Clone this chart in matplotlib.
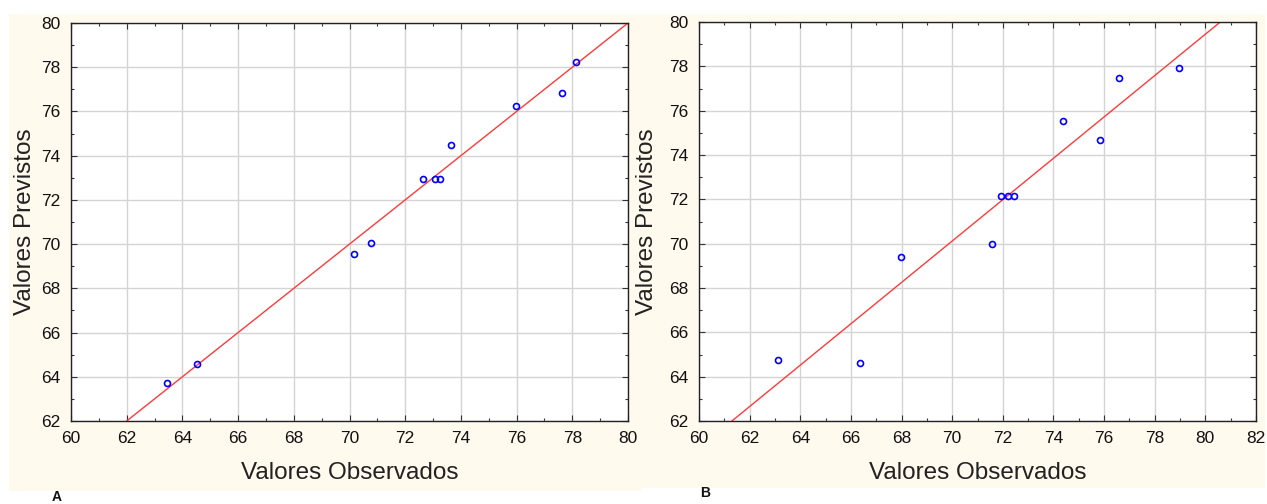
import matplotlib
matplotlib.use("Agg")
import matplotlib.pyplot as plt
from matplotlib.patches import Rectangle
from matplotlib.ticker import MultipleLocator

plt.rcParams['font.family'] = ['Liberation Sans', 'DejaVu Sans']

# ---- data ----
obs_a = [63.46, 64.53, 70.15, 70.78, 72.65, 73.08, 73.24, 73.64, 75.99, 77.62, 78.13]
pred_a = [63.72, 64.60, 69.55, 70.05, 72.94, 72.94, 72.94, 74.48, 76.25, 76.83, 78.22]
line_a_x = [62.0, 80.0]
line_a_y = [62.0, 80.0]

obs_b = [63.12, 66.35, 67.99, 71.57, 71.93, 72.22, 72.43, 74.37, 75.82, 76.59, 78.96]
pred_b = [64.76, 64.61, 69.40, 70.00, 72.16, 72.16, 72.16, 75.55, 74.69, 77.46, 77.93]
line_b_x = [61.30, 80.59]
line_b_y = [62.0, 80.0]

xlim_a = (60, 80)
xlim_b = (60, 82)
ylim = (62, 80)
xlabel = "Valores Observados"
ylabel = "Valores Previstos"
panel_labels = ["A", "B"]

W, H = 1267, 504
fig = plt.figure(figsize=(W / 100, H / 100), dpi=100)
fig.patch.set_facecolor('white')

cream = '#FFF9EE'
fig.patches.append(Rectangle((9 / W, 1 - 491 / H), 633 / W, 477 / H,
                             transform=fig.transFigure, facecolor=cream,
                             edgecolor='none', zorder=-10))
fig.patches.append(Rectangle((642 / W, 1 - 488 / H), 623 / W, 474 / H,
                             transform=fig.transFigure, facecolor=cream,
                             edgecolor='none', zorder=-10))

ax_a = fig.add_axes([71 / W, 1 - 421 / H, 557 / W, 398 / H])
ax_b = fig.add_axes([699 / W, 1 - 421 / H, 557 / W, 399 / H])
ax_a.set_zorder(5)
ax_b.set_zorder(5)


def style(ax, xlim, ylab_x):
    ax.set_facecolor('white')
    ax.set_xlim(*xlim)
    ax.set_ylim(*ylim)
    ax.xaxis.set_major_locator(MultipleLocator(2))
    ax.xaxis.set_minor_locator(MultipleLocator(1))
    ax.yaxis.set_major_locator(MultipleLocator(2))
    ax.yaxis.set_minor_locator(MultipleLocator(1))
    ax.grid(True, which='major', color='#D4D4D4', linewidth=1.0, zorder=0)
    ax.set_axisbelow(True)
    for s in ax.spines.values():
        s.set_color('#222222')
        s.set_linewidth(1.0)
    ax.tick_params(which='both', direction='in', top=True, right=True,
                   color='#333333', labelsize=12.5, labelcolor='#111111')
    ax.tick_params(which='major', length=4, width=0.8, pad=7.5)
    ax.tick_params(which='minor', length=2.5, width=0.8)
    ax.set_xlabel(xlabel, fontsize=17.5, color='#222222')
    ax.set_ylabel(ylabel, fontsize=17.5, color='#222222')
    ax.xaxis.label.set_va('center')
    ax.xaxis.set_label_coords(0.5, -0.131)
    ax.yaxis.label.set_va('center')
    ax.yaxis.set_label_coords(ylab_x, 0.5)


style(ax_a, xlim_a, -0.083)
style(ax_b, xlim_b, -0.094)

ax_a.plot(line_a_x, line_a_y, color='#FF3B3B', linewidth=1.0, zorder=2)
ax_a.plot(obs_a, pred_a, linestyle='none', marker='o', markersize=4.3,
          markerfacecolor='none', markeredgecolor='#0000FF',
          markeredgewidth=1.2, zorder=3)

ax_b.plot(line_b_x, line_b_y, color='#FF3B3B', linewidth=1.0, zorder=2)
ax_b.plot(obs_b, pred_b, linestyle='none', marker='o', markersize=4.3,
          markerfacecolor='none', markeredgecolor='#0000FF',
          markeredgewidth=1.2, zorder=3)

fig.text(57 / W, 1 - 497 / H, panel_labels[0], fontsize=10, fontweight='bold',
         ha='center', va='center', color='#111111')
fig.text(705 / W, 1 - 493 / H, panel_labels[1], fontsize=10, fontweight='bold',
         ha='center', va='center', color='#111111')

fig.savefig('out.png', dpi=100, facecolor=fig.get_facecolor())
